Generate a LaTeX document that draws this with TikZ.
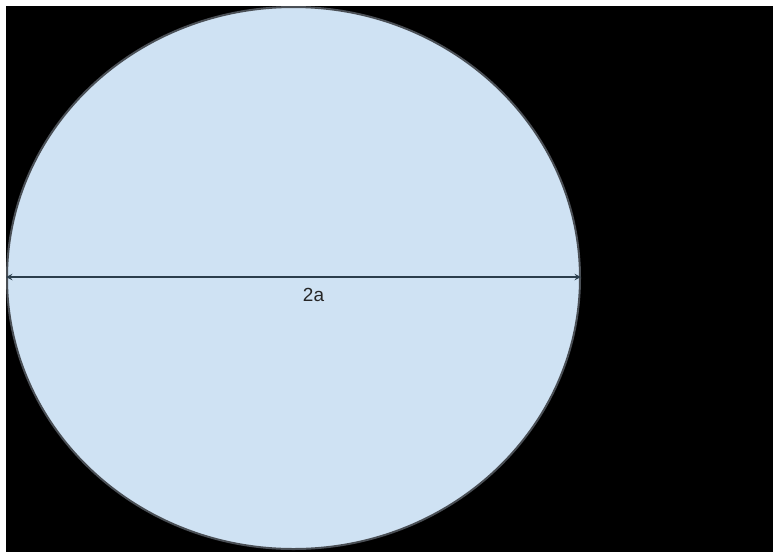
\documentclass[tikz,border=0pt]{standalone}
\usepackage{fontspec}
\setmainfont{Liberation Sans}
\usepackage{tikz}
\usetikzlibrary{shapes.geometric, arrows, positioning, calc}
\usepackage{xcolor}
\definecolor{discfill}{HTML}{CFE2F3}
\definecolor{discedge}{HTML}{4A4F55}
\definecolor{axisline}{HTML}{2B3E4C}
\tikzstyle{disc} = [ellipse, minimum width=573pt, minimum height=542pt, inner sep=0pt, draw=discedge, line width=2pt, fill=discfill]
\tikzstyle{arrow} = [line width=1.8pt, draw=axisline, <->, >=stealth]
\tikzstyle{dimlabel} = [font=\fontsize{19}{22}\selectfont, text=black!85, inner sep=0pt]

\begin{document}
\begin{tikzpicture}[x=1pt, y=-1pt]
        \useasboundingbox (0,0) rectangle (773,552);
        \fill[white] (0,0) rectangle (773,552);
        \fill[black] (6,6) rectangle (773,552);
        \node (disc) [disc] at (293.5,278) {};
        \coordinate (left) at ($(disc.west)+(0,-1)$);
        \coordinate (right) at ($(disc.east)+(0,-1)$);
        \draw [arrow] (left) -- (right);
        \node (len) [dimlabel, below=10pt of disc.center, xshift=20pt] {2a};
    \end{tikzpicture}
\end{document}
